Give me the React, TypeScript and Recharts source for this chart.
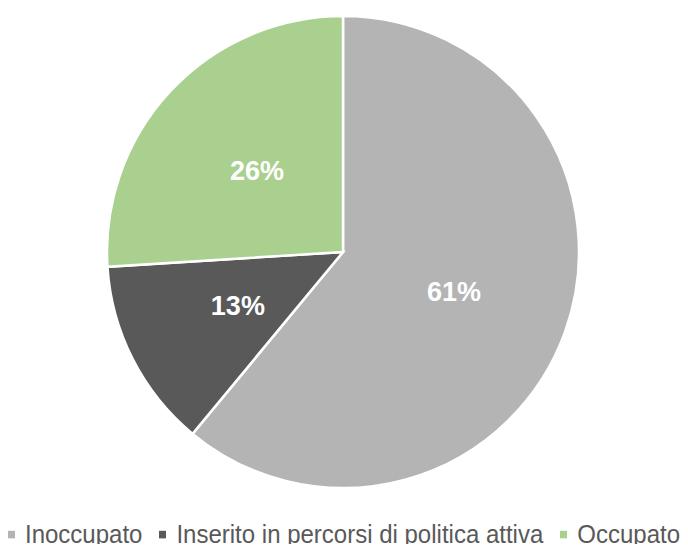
import { PieChart, Pie, Cell, Legend } from "recharts";

const categories = ["Inoccupato", "Inserito in percorsi di politica attiva", "Occupato"];
const shares = [61, 13, 26];
const COLORS = ["#b4b4b4", "#595959", "#a9d08e"];

const data = categories.map((name, i) => ({ name, value: shares[i] }));

const RAD = Math.PI / 180;
const FONT = "'Liberation Sans', Arial, sans-serif";

const renderLabel = (props: any) => {
  const { cx, cy, midAngle, outerRadius, value } = props;
  const r = outerRadius * 0.5;
  const x = cx + r * Math.cos(-midAngle * RAD);
  const y = cy + r * Math.sin(-midAngle * RAD);
  return (
    <text
      x={x}
      y={y}
      fill="#ffffff"
      textAnchor="middle"
      dominantBaseline="central"
      fontSize={27}
      fontWeight="bold"
      fontFamily={FONT}
    >
      {value}%
    </text>
  );
};

const renderLegend = () => (
  <div
    style={{
      display: "flex",
      justifyContent: "center",
      alignItems: "center",
      fontFamily: FONT,
      fontSize: 24,
      lineHeight: "27px",
      color: "#595959",
      whiteSpace: "nowrap",
      transform: "scaleY(1.08)",
    }}
  >
    {data.map((d, i) => (
      <div key={d.name} style={{ display: "flex", alignItems: "center", marginLeft: i === 0 ? 0 : 17 }}>
        <span style={{ width: 7, height: 7, background: COLORS[i], marginRight: 10, marginTop: 2, display: "inline-block" }} />
        <span>{d.name}</span>
      </div>
    ))}
  </div>
);

export default function App() {
  return (
    <div style={{ margin: -8, width: 688, height: 552, background: "#ffffff", overflow: "hidden" }}>
      <PieChart width={688} height={552} margin={{ top: 0, right: 0, bottom: 0, left: 0 }}>
        <Pie
          data={data}
          dataKey="value"
          nameKey="name"
          cx={343}
          cy={252}
          outerRadius={236}
          startAngle={90}
          endAngle={-270}
          stroke="#ffffff"
          strokeWidth={2.5}
          label={renderLabel}
          labelLine={false}
          isAnimationActive={false}
        >
          {data.map((d, i) => (
            <Cell key={d.name} fill={COLORS[i]} />
          ))}
        </Pie>
        <Legend content={renderLegend} wrapperStyle={{ top: 520, left: 0, width: 688 }} />
      </PieChart>
    </div>
  );
}
